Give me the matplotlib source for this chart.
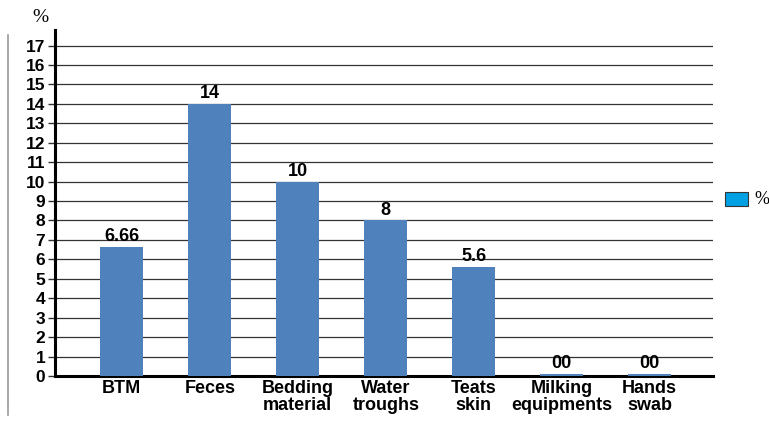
import matplotlib
matplotlib.use("Agg")
import matplotlib.pyplot as plt
from matplotlib.lines import Line2D
from matplotlib.patches import Rectangle

categories = ["BTM", "Feces", "Bedding\nmaterial", "Water\ntroughs", "Teats\nskin", "Milking\nequipments", "Hands\nswab"]
values = [6.66, 14, 10, 8, 5.6, 0.1, 0.1]
value_labels = ["6.66", "14", "10", "8", "5.6", "00", "00"]
yticks = list(range(0, 18))
legend_label = "%"

plt.rcParams['font.family'] = ['Liberation Sans', 'DejaVu Sans']

fig = plt.figure(figsize=(7.69, 4.21), dpi=100)
ax = fig.add_axes([55/769, 1-376/421, (713-55)/769, (376-30)/421])

x = list(range(len(categories)))
ax.bar(x, values, width=0.49, color="#4f81bd", zorder=3)
for xi, v, lab in zip(x, values, value_labels):
    ax.text(xi, v + 0.1, lab, ha="center", va="bottom", fontsize=13, fontweight="bold", zorder=4)

ax.set_xlim(-0.76, 6.72)
ax.set_ylim(0, 17.8)
ax.set_yticks(yticks)
ax.set_yticklabels([str(t) for t in yticks], fontsize=12.5, fontweight="bold")
ax.set_xticks(x)
ax.set_xticklabels(categories, fontsize=13, fontweight="bold", linespacing=0.95)
ax.tick_params(axis="x", length=0, pad=3)
ax.tick_params(axis="y", length=5, width=1, pad=2, color="#333333")
ax.grid(axis="y", color="#333333", linewidth=0.9, zorder=0)
for s in ["top", "right"]:
    ax.spines[s].set_visible(False)
ax.spines["left"].set_linewidth(2.2)
ax.spines["bottom"].set_linewidth(2.2)

fig.text(40/769, 1-18/421, "%", fontsize=14, family=["Liberation Serif", "DejaVu Serif"], ha="center", va="center")
fig.add_artist(Line2D([8/769, 8/769], [1-35/421, 1-415/421], color="#999999", linewidth=1.2))

# legend drawn manually at the reference position
fig.add_artist(Rectangle((725/769, 1-206/421), 23/769, 14/421, facecolor="#00a0e3",
                         edgecolor="#333333", linewidth=0.8, transform=fig.transFigure))
fig.text(754/769, 1-199/421, legend_label, fontsize=13, family=["Liberation Serif", "DejaVu Serif"],
         ha="left", va="center")

fig.savefig("out.png", dpi=100)
